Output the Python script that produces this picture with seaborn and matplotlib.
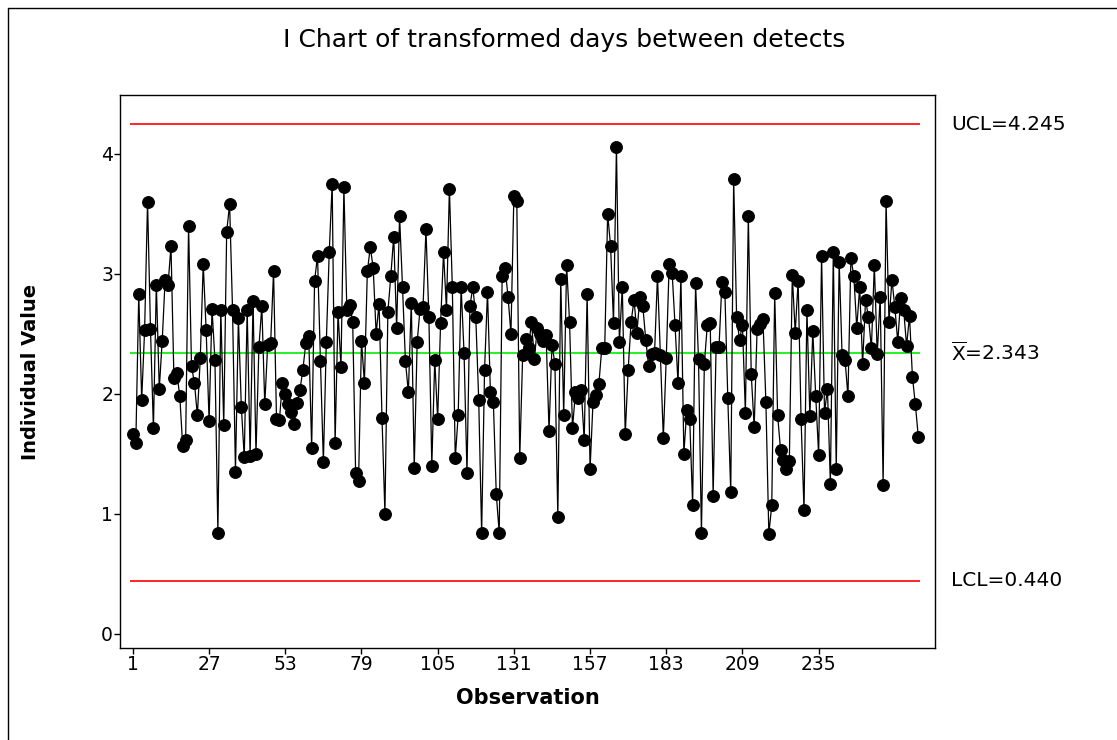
import matplotlib
matplotlib.use("Agg")
import matplotlib.pyplot as plt
import seaborn as sns
import pandas as pd
import numpy as np
from matplotlib.lines import Line2D

values = [
    1.66, 1.59, 2.83, 1.95, 2.53, 3.60, 2.54, 1.71, 2.91, 2.04, 2.44, 2.95, 2.91, 3.23, 2.13, 2.17, 1.98, 1.56,
    1.61, 3.40, 2.23, 2.09, 1.82, 2.30, 3.08, 2.53, 1.77, 2.71, 2.28, 0.84, 2.70, 1.74, 3.35, 3.58, 2.70, 1.35,
    2.63, 1.89, 1.47, 2.70,
    1.48, 2.77, 1.50, 2.39, 2.73, 1.91, 2.41, 2.42, 3.02, 1.79, 1.78, 2.09, 2.00, 1.91, 1.85, 1.75, 1.92, 2.03,
    2.20, 2.42, 2.48, 1.55, 2.94, 3.15, 2.27,
    1.43, 2.43, 3.18, 3.75, 1.59, 2.68, 2.22, 3.72, 2.70, 2.74, 2.60, 1.34, 1.27, 2.44, 2.09, 3.02, 3.22, 3.05,
    2.50, 2.75, 1.80,
    1.00, 2.68, 2.98, 3.31, 2.55, 3.48, 2.89, 2.27, 2.01, 2.76, 1.38, 2.43, 2.71, 2.72, 3.37, 2.64, 1.40, 2.28,
    1.79, 2.59, 3.18, 2.70, 3.71,
    2.89, 1.46, 1.82, 2.89, 2.34, 1.34, 2.73, 2.89, 2.64, 1.95, 0.84, 2.20, 2.85, 2.01, 1.93, 1.16, 0.84, 2.98,
    3.05, 2.81, 2.50,
    3.65, 3.61, 1.46, 2.32, 2.46, 2.38, 2.60, 2.29, 2.55, 2.50, 2.44, 2.49, 1.69, 2.41, 2.25, 0.97, 2.96, 1.82,
    3.07, 2.60, 1.71, 2.01,
    1.96, 2.03, 1.61, 2.83, 1.37, 1.93, 1.99, 2.08, 2.38, 2.38, 3.50, 3.23, 2.59, 4.06,
    2.43, 2.89, 1.66, 2.20, 2.60, 2.78, 2.51, 2.81, 2.73, 2.45, 2.23, 2.33, 2.34, 2.98, 2.32, 1.63, 2.30, 3.08,
    3.01, 2.57, 2.09, 2.98, 1.50, 1.86, 1.79, 1.07, 2.92, 2.29, 0.84,
    2.25, 2.57, 2.59,
    1.15, 2.39, 2.39, 2.93, 2.85, 1.96, 1.18, 3.79, 2.64, 2.45, 2.57, 1.84, 3.48, 2.16, 1.72, 2.54, 2.58, 2.62,
    1.93, 0.83, 1.07,
    2.84, 1.82, 1.53, 1.45, 1.37, 1.44, 2.99, 2.51, 2.94, 1.79, 1.03, 2.70, 1.81, 2.52, 1.98, 1.49, 3.15, 1.84,
    2.04, 1.25, 3.18, 1.37, 3.10,
    2.32, 2.28, 1.98, 3.13, 2.98, 2.55, 2.89, 2.25, 2.78, 2.64, 2.38, 3.07, 2.33, 2.81, 1.24, 3.61, 2.60, 2.95,
    2.72, 2.43, 2.80, 2.70, 2.40, 2.65, 2.14, 1.91, 1.64,
]
observations = list(range(1, len(values) + 1))
x_ticks = [1, 27, 53, 79, 105, 131, 157, 183, 209, 235]
y_ticks = [0, 1, 2, 3, 4]
UCL = 4.245
CL = 2.343
LCL = 0.440
title = "I Chart of transformed days between detects"

df = pd.DataFrame({"Observation": observations, "Individual Value": values})

sns.set_style("white")
plt.rcParams["font.family"] = ["DejaVu Sans"]
plt.rcParams["text.color"] = "black"
plt.rcParams["axes.labelcolor"] = "black"
plt.rcParams["xtick.color"] = "black"
plt.rcParams["ytick.color"] = "black"

W, H = 1117, 740
fig = plt.figure(figsize=(W / 100, H / 100), dpi=100)
ax = fig.add_axes([120 / W, 1 - 648 / H, 815 / W, 553 / H])

n = len(values)
ax.hlines([UCL, LCL], 0, n + 0.5, colors="#ff0000", linewidth=1.2, zorder=1)
ax.hlines([CL], 0, n + 0.5, colors="#00f000", linewidth=1.2, zorder=1)

sns.lineplot(data=df, x="Observation", y="Individual Value", ax=ax, color="black",
             linewidth=0.9, marker="o", markersize=8.5, markeredgecolor="black",
             markerfacecolor="black", zorder=3)

ax.set_xlim(-3.4, 274.7)
ax.set_ylim(-0.12, 4.49)
ax.set_xticks(x_ticks)
ax.set_yticks(y_ticks)
ax.tick_params(axis="both", direction="out", length=4, width=1, colors="black",
               labelsize=13.5, pad=1, bottom=True, left=True)
for s in ax.spines.values():
    s.set_color("black")
    s.set_linewidth(1)

ax.set_xlabel("Observation", fontsize=15, fontweight="bold", labelpad=10)
ax.set_ylabel("Individual Value", fontsize=14, fontweight="bold", labelpad=44)
fig.text(564 / W, 1 - 40 / H, title, ha="center", va="center", fontsize=18)

tr = ax.get_yaxis_transform()
lab_kw = dict(transform=tr, ha="left", va="center", fontsize=14.5, clip_on=False)
ax.text(1.02, UCL, f"UCL={UCL:.3f}", **lab_kw)
ax.text(1.02, CL, r"$\overline{\mathrm{X}}$" + f"={CL:.3f}", **lab_kw)
ax.text(1.02, LCL, f"LCL={LCL:.3f}", **lab_kw)

# outer graph frame
fig.add_artist(Line2D([8 / W, 1], [1 - 8 / H, 1 - 8 / H], color="black", linewidth=1, transform=fig.transFigure))
fig.add_artist(Line2D([8 / W, 8 / W], [0, 1 - 8 / H], color="black", linewidth=1, transform=fig.transFigure))

fig.savefig("out.png", dpi=100)
